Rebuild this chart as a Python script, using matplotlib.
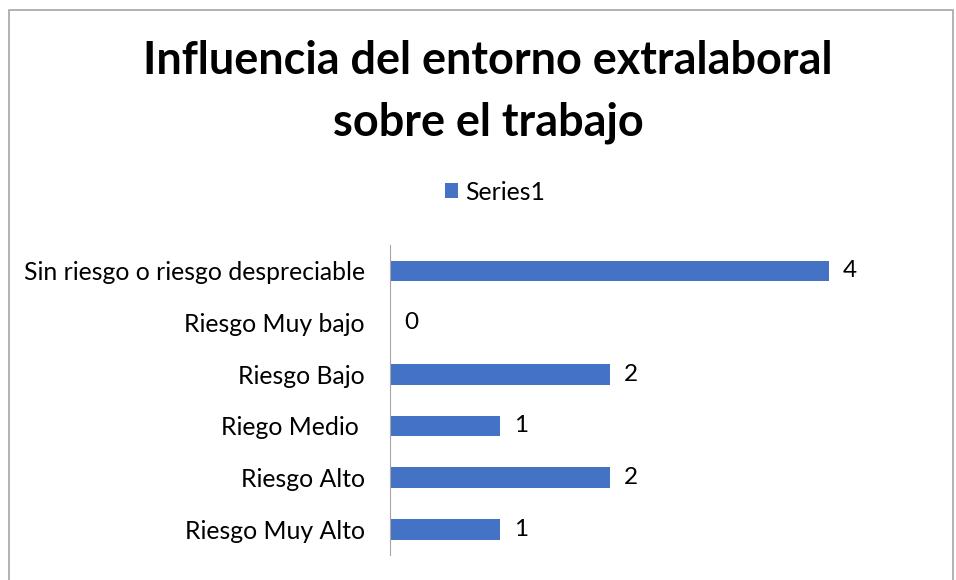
import matplotlib.pyplot as plt
from matplotlib.patches import Rectangle

# datos del gráfico
categorias = ['Sin riesgo o riesgo despreciable', 'Riesgo Muy bajo', 'Riesgo Bajo',
              'Riego Medio ', 'Riesgo Alto', 'Riesgo Muy Alto']
valores = [4, 0, 2, 1, 2, 1]
titulo = 'Influencia del entorno extralaboral\nsobre el trabajo'
serie = 'Series1'

plt.rcParams['font.family'] = ['Lato', 'DejaVu Sans']

fig = plt.figure(figsize=(9.56, 5.8), dpi=100)
# marco del gráfico
fig.patches.append(Rectangle((9 / 956, -0.1), 944 / 956, 1.1 - 10 / 580, transform=fig.transFigure,
                             fill=False, edgecolor='#a6a6a6', linewidth=1.2))

ax = fig.add_axes([390 / 956, 25 / 580, 439 / 956, 310 / 580])
y = list(range(len(categorias)))[::-1]
bars = ax.barh(y, valores, height=0.4, color='#4472c4', label=serie)
ax.set_xlim(0, 4)
ax.set_ylim(-0.5, len(categorias) - 0.5)
ax.set_yticks(y)
ax.set_yticklabels(categorias, fontsize=17.8, color='#000000')
ax.tick_params(axis='y', length=0, pad=18)
ax.set_xticks([])
for s in ['top', 'right', 'bottom']:
    ax.spines[s].set_visible(False)
ax.spines['left'].set_color('#a6a6a6')

for yi, v in zip(y, valores):
    ax.annotate(str(v), (v, yi), xytext=(10, 0), textcoords='offset points',
                va='center', ha='left', fontsize=17.5, annotation_clip=False)

fig.text(488 / 956, 1 - 92 / 580, titulo, ha='center', va='center', fontsize=32.4,
         fontweight='bold', linespacing=1.55)

fig.legend(handles=[bars], labels=[serie], loc='center', bbox_to_anchor=(495 / 956, 1 - 192 / 580),
           frameon=False, fontsize=17.8, handlelength=0.55, handleheight=0.55, handletextpad=0.3)

fig.savefig('out.png', dpi=100)
